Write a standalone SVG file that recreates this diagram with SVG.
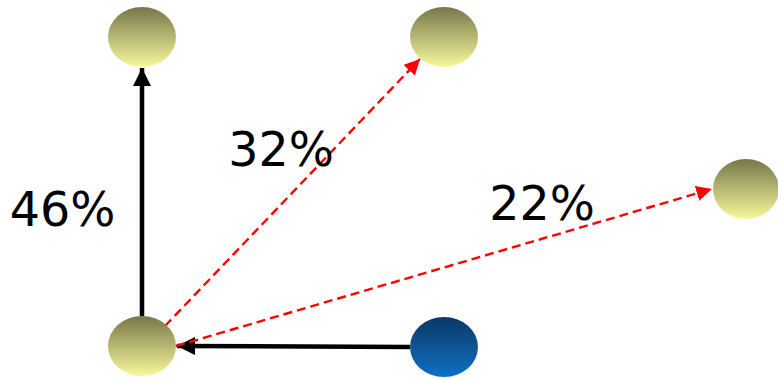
<svg xmlns="http://www.w3.org/2000/svg" width="778" height="379" viewBox="0 0 778 379">
<defs>
<linearGradient id="gy" x1="0" y1="0" x2="0" y2="1">
<stop offset="0" stop-color="#76764a"/>
<stop offset="1" stop-color="#f8f89c"/>
</linearGradient>
<linearGradient id="gb" x1="0" y1="0" x2="0" y2="1">
<stop offset="0" stop-color="#0b3866"/>
<stop offset="1" stop-color="#0f70c4"/>
</linearGradient>
<marker id="ab" viewBox="0 0 10 10" refX="10" refY="5" markerWidth="4" markerHeight="4" orient="auto" markerUnits="strokeWidth">
<path d="M0,0 L10,5 L0,10 z" fill="#000"/>
</marker>
<marker id="ar" viewBox="0 0 10 10" refX="10" refY="5" markerWidth="6.5" markerHeight="6.5" orient="auto" markerUnits="strokeWidth">
<path d="M0,0 L10,5 L0,10 z" fill="#ff0000"/>
</marker>
<style>
.ny{fill:url(#gy)}
.nb{fill:url(#gb)}
.solid{stroke:#000;stroke-width:4.5;fill:none}
.dash{stroke:#ff0000;stroke-width:2.4;stroke-dasharray:9 5;fill:none}
.lbl{font-family:"DejaVu Sans",sans-serif;font-size:47.5px;fill:#000;text-anchor:middle}
</style>
</defs>
<rect width="778" height="379" fill="#fff"/>
<g id="connectors">
<line class="solid" x1="142" y1="316" x2="142" y2="68" marker-end="url(#ab)"/>
<line class="solid" x1="410" y1="347" x2="177" y2="346" marker-end="url(#ab)"/>
<line class="dash" x1="165" y1="326" x2="420" y2="59" marker-end="url(#ar)"/>
<line class="dash" x1="176" y1="346" x2="712" y2="189" marker-end="url(#ar)"/>
</g>
<g id="node-topleft"><ellipse class="ny" cx="142" cy="37" rx="34" ry="30"/></g>
<g id="node-topmid"><ellipse class="ny" cx="444" cy="37" rx="34" ry="30"/></g>
<g id="node-right"><ellipse class="ny" cx="746" cy="189" rx="33" ry="30"/></g>
<g id="node-bottomleft"><ellipse class="ny" cx="142" cy="346" rx="34" ry="30"/></g>
<g id="node-blue"><ellipse class="nb" cx="444" cy="347" rx="34" ry="30"/></g>
<g id="labels">
<text class="lbl" x="62.5" y="226">46%</text>
<text class="lbl" x="281" y="166">32%</text>
<text class="lbl" x="542" y="220">22%</text>
</g>
</svg>
